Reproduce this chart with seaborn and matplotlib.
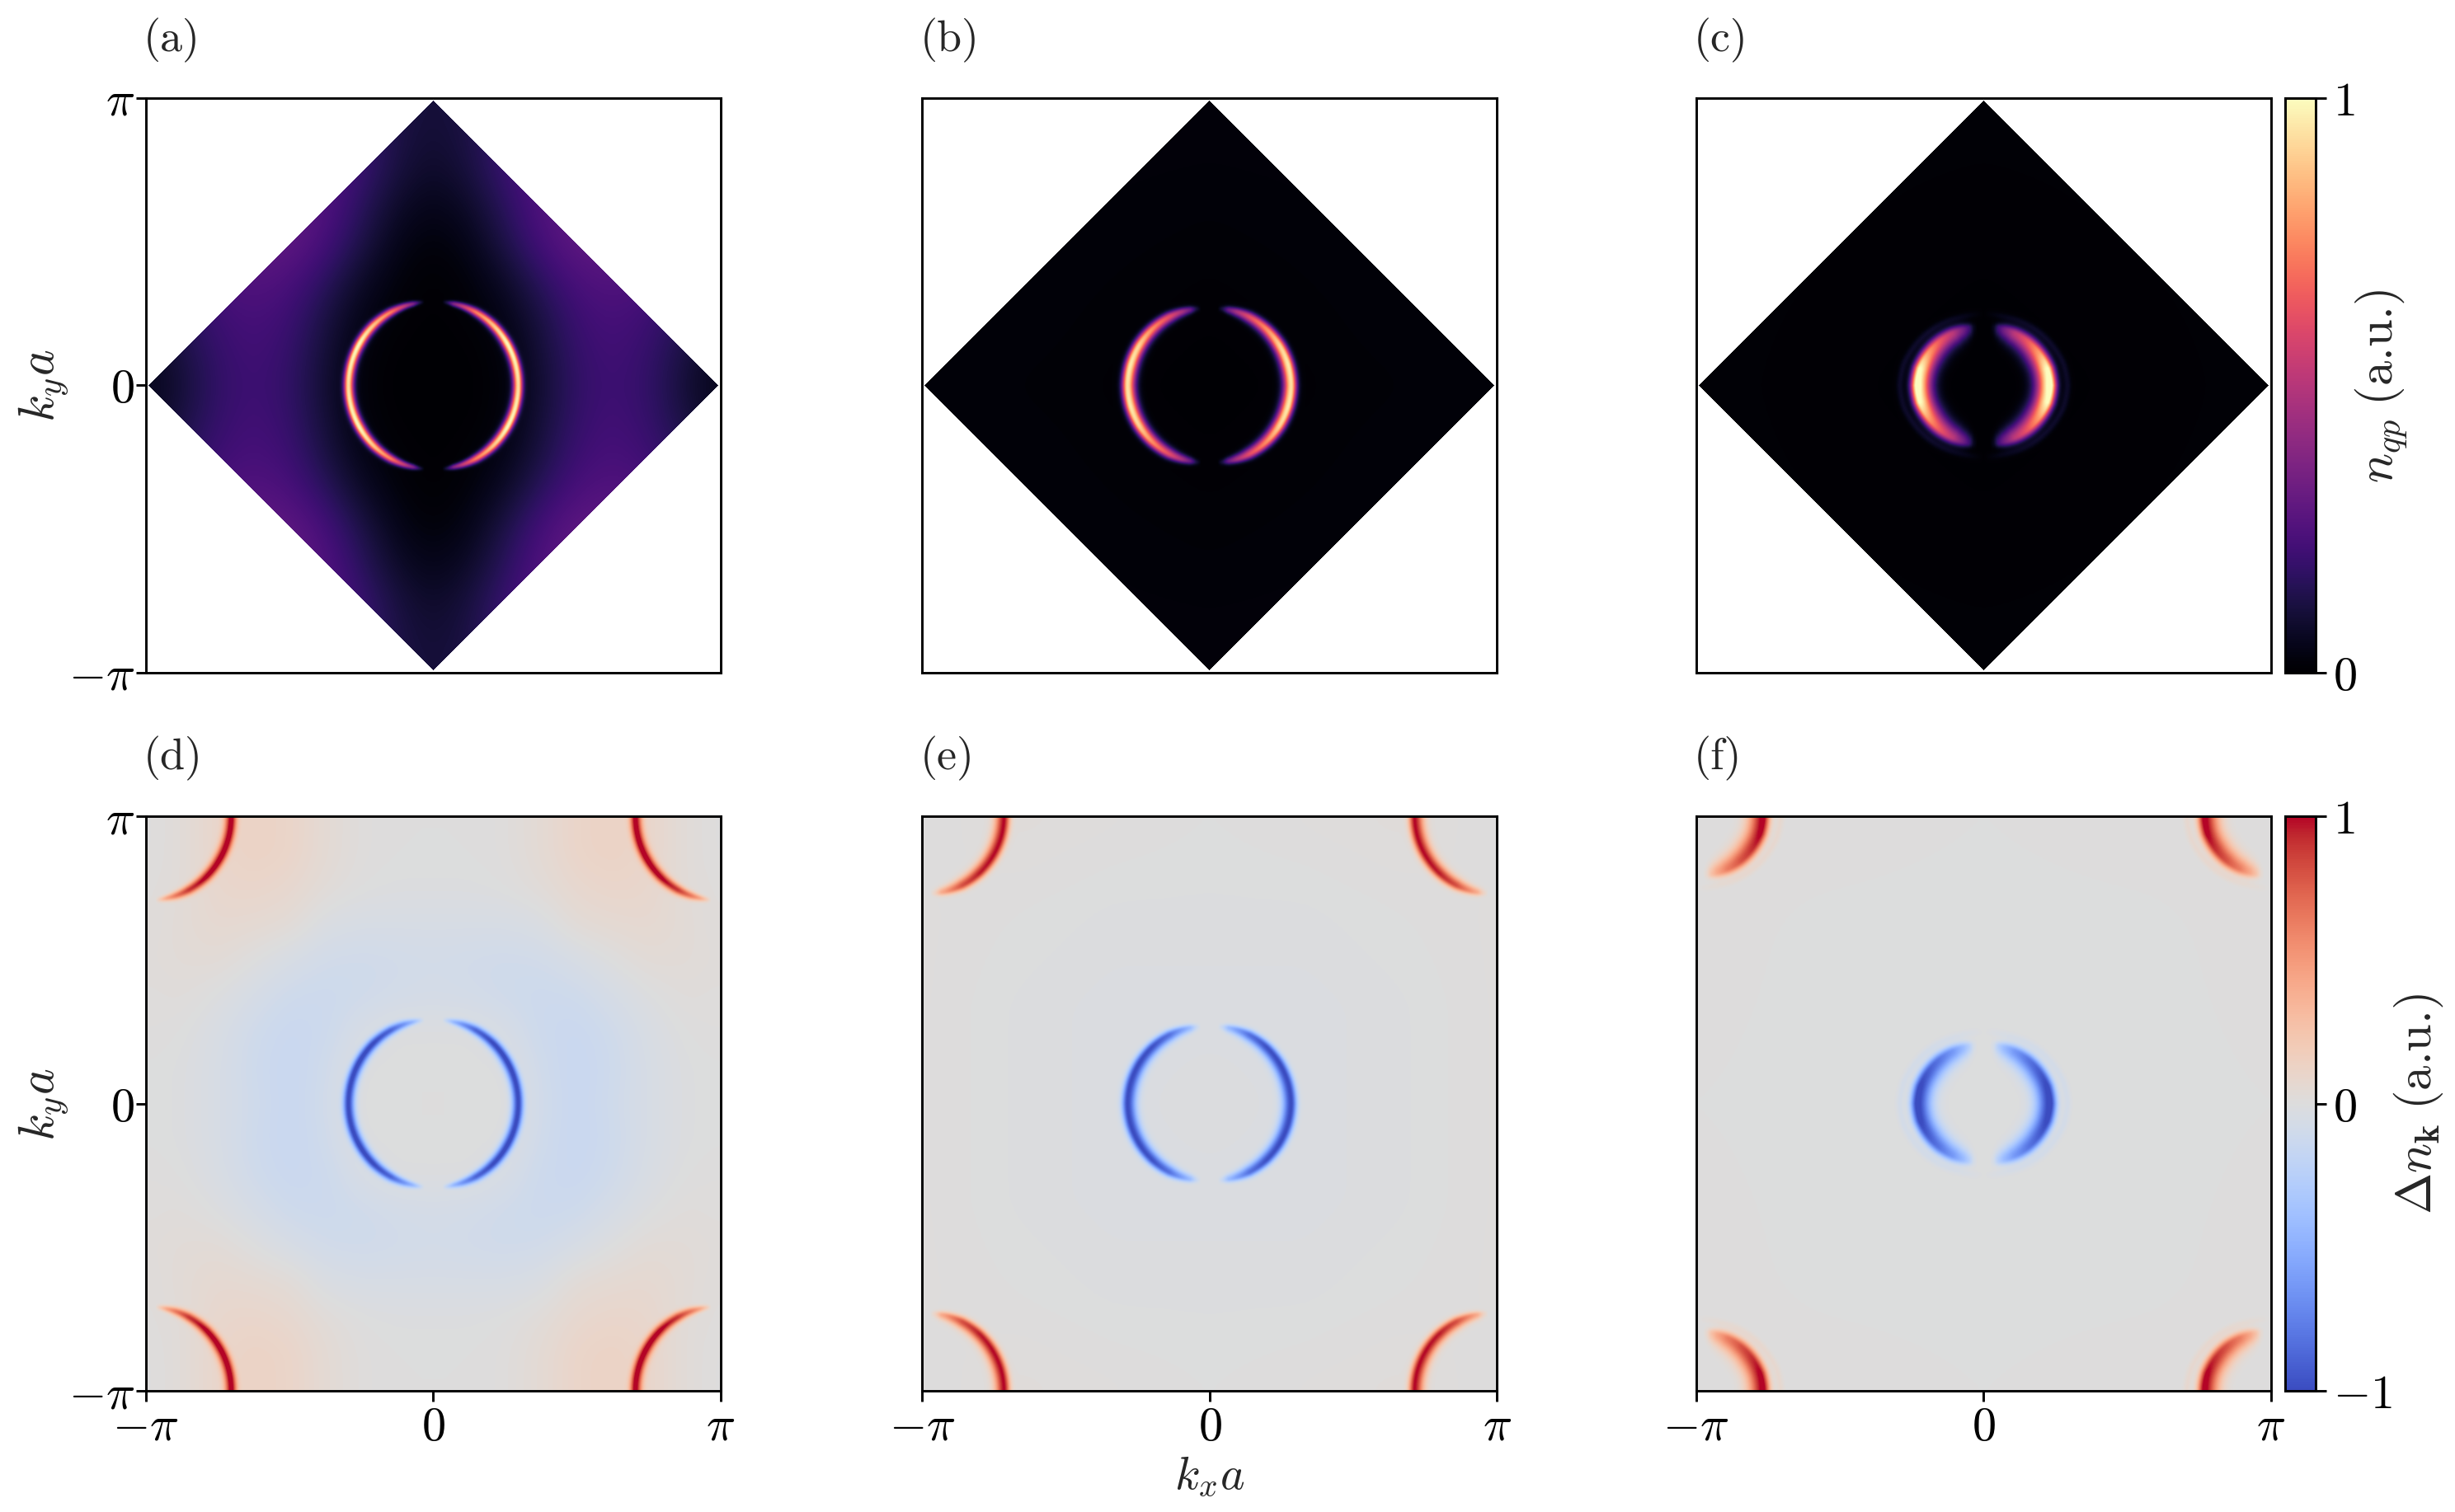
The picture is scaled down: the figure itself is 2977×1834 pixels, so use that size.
import numpy as np
import pandas as pd
import matplotlib
matplotlib.use('Agg')
import matplotlib.pyplot as plt
import seaborn as sb

# values, k in units of pi, first quadrant only
# the fine heatmap grid is resampled from these tables
ring_angle = [0, 15, 30, 45, 60, 70, 76, 80, 84, 90]

amp_a = [0.88, 0.92, 0.95, 0.85, 0.70, 0.50, 0.35, 0.15, 0.0, 0.0]
amp_b = [0.93, 0.95, 0.90, 0.75, 0.60, 0.45, 0.30, 0.12, 0.0, 0.0]
amp_c = [1.06, 1.00, 0.80, 0.64, 0.50, 0.33, 0.20, 0.06, 0.0, 0.0]
amp_d = [0.97, 0.98, 1.00, 0.98, 0.85, 0.60, 0.40, 0.20, 0.0, 0.0]
amp_e = [0.98, 0.98, 0.98, 0.95, 0.80, 0.55, 0.38, 0.15, 0.0, 0.0]
amp_f = [1.05, 1.02, 0.92, 0.80, 0.62, 0.42, 0.25, 0.08, 0.0, 0.0]

radius_thin = [0.296, 0.296, 0.296, 0.296, 0.295, 0.294, 0.293, 0.293, 0.293, 0.293]
radius_b = [0.285, 0.284, 0.282, 0.280, 0.277, 0.274, 0.272, 0.271, 0.270, 0.270]
radius_c = [0.232, 0.230, 0.224, 0.218, 0.212, 0.208, 0.207, 0.207, 0.207, 0.207]

inner_thin = [0.013, 0.013, 0.013, 0.012, 0.010, 0.008, 0.007, 0.006, 0.005, 0.005]
outer_thin = [0.011, 0.011, 0.011, 0.011, 0.010, 0.008, 0.007, 0.006, 0.005, 0.005]
inner_d = [0.015, 0.015, 0.015, 0.014, 0.012, 0.010, 0.008, 0.007, 0.006, 0.006]
outer_d = [0.013, 0.013, 0.013, 0.013, 0.012, 0.010, 0.008, 0.007, 0.006, 0.006]
inner_b = [0.019, 0.019, 0.018, 0.017, 0.015, 0.012, 0.010, 0.008, 0.007, 0.007]
outer_b = [0.014, 0.014, 0.014, 0.013, 0.012, 0.010, 0.009, 0.008, 0.007, 0.007]
inner_e = [0.021, 0.021, 0.020, 0.019, 0.017, 0.014, 0.012, 0.010, 0.008, 0.008]
inner_c = [0.034, 0.034, 0.034, 0.032, 0.029, 0.025, 0.021, 0.018, 0.016, 0.016]
outer_c = [0.016, 0.016, 0.016, 0.016, 0.015, 0.014, 0.012, 0.011, 0.010, 0.010]

ripple_radius = [0.292, 0.288, 0.277, 0.267, 0.257, 0.251, 0.249, 0.249, 0.249, 0.249]
ripple_amp = [0.07, 0.07, 0.07, 0.07, 0.06, 0.05, 0.04, 0.03, 0.02, 0.0]
ripple_width = [0.009, 0.009, 0.009, 0.009, 0.009, 0.009, 0.009, 0.009, 0.009, 0.009]

bg_a = [[0.00, 0.00, 0.01, 0.09, 0.18, 0.21, 0.18, 0.10, 0.03],
        [0.00, 0.00, 0.02, 0.10, 0.19, 0.22, 0.19, 0.12, 0.05],
        [0.00, 0.01, 0.04, 0.12, 0.21, 0.23, 0.21, 0.15, 0.10],
        [0.00, 0.02, 0.07, 0.17, 0.24, 0.26, 0.24, 0.20, 0.15],
        [0.015, 0.04, 0.13, 0.23, 0.29, 0.29, 0.27, 0.22, 0.15],
        [0.04, 0.07, 0.16, 0.25, 0.29, 0.29, 0.27, 0.22, 0.15],
        [0.07, 0.11, 0.20, 0.26, 0.29, 0.29, 0.27, 0.22, 0.15],
        [0.09, 0.12, 0.20, 0.26, 0.29, 0.29, 0.27, 0.22, 0.15],
        [0.10, 0.12, 0.20, 0.26, 0.29, 0.29, 0.27, 0.22, 0.15]]
bg_b = [[0.00, 0.01, 0.015],
        [0.01, 0.015, 0.02],
        [0.02, 0.02, 0.025]]
bg_c = [[0.00, 0.005, 0.01],
        [0.005, 0.008, 0.01],
        [0.01, 0.01, 0.015]]
bg_d = [[0.00, 0.00, 0.00, -0.09, -0.15, -0.10, -0.05, -0.01, 0.00],
        [0.00, 0.00, -0.01, -0.10, -0.15, -0.11, -0.05, -0.01, 0.00],
        [-0.01, -0.01, -0.05, -0.12, -0.14, -0.10, -0.04, 0.00, 0.01],
        [-0.07, -0.08, -0.10, -0.12, -0.11, -0.06, -0.01, 0.02, 0.01],
        [-0.08, -0.09, -0.10, -0.09, -0.05, 0.00, 0.04, 0.035, 0.02],
        [-0.05, -0.05, -0.05, -0.03, 0.04, 0.06, 0.07, 0.04, 0.01],
        [-0.01, -0.01, 0.00, 0.03, 0.08, 0.10, 0.09, 0.03, 0.01],
        [0.00, 0.00, 0.01, 0.05, 0.11, 0.13, 0.10, 0.03, 0.00],
        [0.00, 0.00, 0.01, 0.05, 0.11, 0.13, 0.10, 0.03, 0.00]]
bg_e = [[-0.01, -0.02, -0.01, 0.01],
        [-0.02, -0.02, -0.01, 0.01],
        [-0.01, -0.01, 0.00, 0.01],
        [0.00, 0.01, 0.02, 0.00]]
bg_f = [[0.00, -0.005, 0.00],
        [-0.005, -0.005, 0.005],
        [0.00, 0.005, 0.00]]

panel_names = ['(a)', '(b)', '(c)', '(d)', '(e)', '(f)']
n = 697
k = np.linspace(-1, 1, n)
KX, KY = np.meshgrid(k, k)


def smooth(Z, w=31):
    box = np.ones(w) / w
    pad = w * 2
    Z = np.pad(Z, pad, mode='reflect')
    for _ in range(2):
        Z = np.apply_along_axis(lambda c: np.convolve(c, box, mode='same'), 0, Z)
        Z = np.apply_along_axis(lambda c: np.convolve(c, box, mode='same'), 1, Z)
    return Z[pad:-pad, pad:-pad]


def background(table, w=31):
    table = np.array(table)
    ax_y = np.linspace(0, 1, table.shape[0])
    ax_x = np.linspace(0, 1, table.shape[1])
    rows = np.array([np.interp(np.abs(k), ax_x, r) for r in table])
    Z = np.array([np.interp(np.abs(k), ax_y, rows[:, j]) for j in range(n)]).T
    return smooth(Z, w)


def ring(x, y, amp, radius, inner, outer):
    r = np.hypot(x, y)
    th = np.degrees(np.arctan2(y, x))
    d = r - np.interp(th, ring_angle, radius)
    s = np.where(d < 0, np.interp(th, ring_angle, inner), np.interp(th, ring_angle, outer))
    return np.interp(th, ring_angle, amp) * np.exp(-d**2 / (2 * s**2))


def ripple(x, y):
    return ring(x, y, ripple_amp, ripple_radius, ripple_width, ripple_width)


AX, AY = np.abs(KX), np.abs(KY)
inside = AX + AY <= 0.992

field_a = background(bg_a, 51) + ring(AX, AY, amp_a, radius_thin, inner_thin, outer_thin)
field_b = background(bg_b) + ring(AX, AY, amp_b, radius_b, inner_b, outer_b)
field_c = background(bg_c) + ring(AX, AY, amp_c, radius_c, inner_c, outer_c) + ripple(AX, AY)
field_a[~inside] = np.nan
field_b[~inside] = np.nan
field_c[~inside] = np.nan


def delta(table, amp, radius, inner, outer, rip=False):
    Z = background(table)
    Z = Z - ring(AX, AY, amp, radius, inner, outer)
    Z = Z + ring(1 - AX, 1 - AY, amp, radius, inner, outer)
    if rip:
        Z = Z - ripple(AX, AY) + ripple(1 - AX, 1 - AY)
    return Z


field_d = delta(bg_d, amp_d, radius_thin, inner_d, outer_d)
field_e = delta(bg_e, amp_e, radius_b, inner_e, outer_b)
field_f = delta(bg_f, amp_f, radius_c, inner_c, outer_c, rip=True)
fields = [field_a, field_b, field_c, field_d, field_e, field_f]

sb.set_style('ticks')
plt.rcParams['font.family'] = ['cmr10', 'DejaVu Serif']
plt.rcParams['mathtext.fontset'] = 'cm'
plt.rcParams['axes.formatter.use_mathtext'] = True
plt.rcParams['axes.unicode_minus'] = False
plt.rcParams['font.size'] = 13
plt.rcParams['axes.linewidth'] = 0.7
plt.rcParams['xtick.color'] = 'black'
plt.rcParams['ytick.color'] = 'black'
plt.rcParams['axes.edgecolor'] = 'black'

W, H = 2978, 1835
fig = plt.figure(figsize=(W / 300, H / 300), dpi=300)
lefts = [176.6, 1118.5, 2056.6]
tops = [119.6, 991]
size = 697


def place(x, y, w, h):
    return fig.add_axes([x / W, 1 - (y + h) / H, w / W, h / H])


pi_labels = [r'$-\pi$', r'$0$', r'$\pi$']
for i, Z in enumerate(fields):
    row, col = i // 3, i % 3
    ax = place(lefts[col], tops[row], size, size)
    top = row == 0
    cmap = 'magma' if top else 'coolwarm'
    vmin = 0 if top else -1
    if col == 2:
        cax = place(2771, tops[row], 37, size)
        extra = {'cbar': True, 'cbar_ax': cax}
    else:
        extra = {'cbar': False}
    df = pd.DataFrame(Z, index=k[::-1], columns=k)
    sb.heatmap(df, ax=ax, cmap=cmap, vmin=vmin, vmax=1, xticklabels=False,
               yticklabels=False, **extra)
    for s in ax.spines.values():
        s.set_visible(True)
        s.set_linewidth(0.7)
    ax.set_xticks([])
    ax.set_yticks([])
    if not top:
        ax.set_xticks([0, n / 2, n])
        ax.set_xticklabels(pi_labels)
    if col == 0:
        ax.set_yticks([0, n / 2, n])
        ax.set_yticklabels(pi_labels[::-1], rotation=0)
        ax.set_ylabel(r'$k_y a$', fontsize=14.5, labelpad=-0.5)
    ax.tick_params(axis='x', length=3, width=0.7, labelsize=14, pad=1.5)
    ax.tick_params(axis='y', length=3, width=0.7, labelsize=14, pad=0.2)
    ax.text(-0.004, 1.102, panel_names[i], transform=ax.transAxes, fontsize=13, va='center', ha='left')
    if i == 4:
        ax.set_xlabel(r'$k_x a$', fontsize=13.5, labelpad=1.5)
    if col == 2:
        for s in cax.spines.values():
            s.set_visible(True)
            s.set_linewidth(0.7)
        if top:
            cax.set_yticks([0, 1])
            cax.set_yticklabels([r'$0$', r'$1$'])
            cax.set_ylabel(r'$n_{qp}\;$(a.u.)', fontsize=14.5, labelpad=-1)
        else:
            cax.set_yticks([-1, 0, 1])
            cax.set_yticklabels([r'$-1$', r'$0$', r'$1$'])
            cax.set_ylabel(r'$\Delta n_{\mathbf{k}}\;$(a.u.)', fontsize=14.5, labelpad=0)
        cax.tick_params(length=3, width=0.7, labelsize=14, pad=2)

fig.savefig('out.png', dpi=300)
